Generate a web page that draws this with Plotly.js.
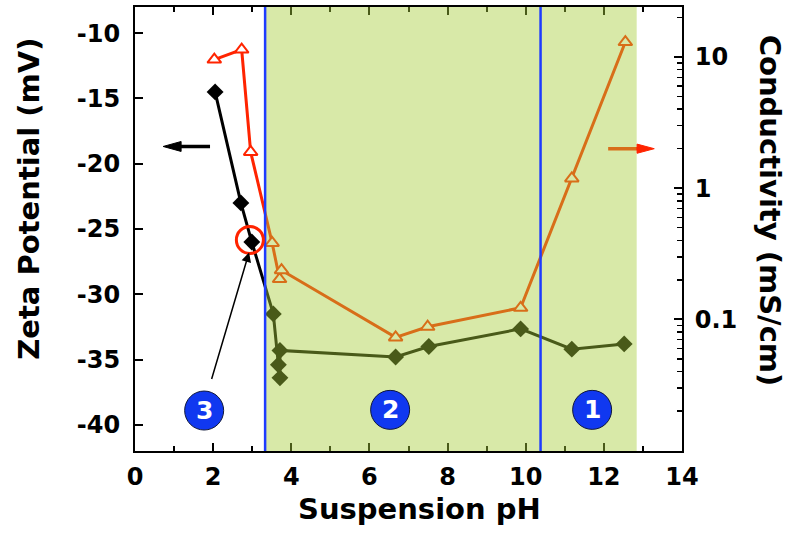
<!DOCTYPE html>
<html>
<head>
<meta charset="utf-8">
<script src="https://cdn.plot.ly/plotly-3.0.1.min.js"></script>
<style>html,body{margin:0;padding:0;background:#fff}#chart{width:789px;height:544px}</style>
</head>
<body>
<div id="chart"></div>
<script>
// ---- data ----
const pH_zeta = [2.05, 2.71, 2.99, 3.54, 3.67, 3.71, 3.71, 6.67, 7.52, 9.87, 11.18, 12.52];
const zeta    = [-14.5, -23.0, -26.0, -31.5, -35.4, -36.4, -34.3, -34.8, -34.0, -32.65, -34.2, -33.8];
const pH_cond = [2.03, 2.73, 2.96, 3.51, 3.70, 3.75, 6.67, 7.49, 9.87, 11.18, 12.55];
const cond    = [9.55, 11.4, 1.89, 0.383, 0.203, 0.237, 0.0729, 0.0879, 0.1226, 1.186, 13.0];

const xTickVals = [0, 2, 4, 6, 8, 10, 12, 14];
const xMinorVals = [1, 3, 5, 7, 9, 11, 13];
const yTickVals = [-40, -35, -30, -25, -20, -15, -10];
const yTickText = ['-40', '-35', '-30', '-25', '-20', '-15', '-10'];
const y2TickVals = [0.1, 1, 10];
const y2TickText = ['0.1', '1', '10'];
const y2MinorVals = [0.02,0.03,0.04,0.05,0.06,0.07,0.08,0.09,
                     0.2,0.3,0.4,0.5,0.6,0.7,0.8,0.9,
                     2,3,4,5,6,7,8,9,20];
const regionLabels = ['3', '2', '1'];

const RED = 'rgb(255,36,0)';
const BLUE = 'rgb(30,60,255)';
const tickFont = {family: 'DejaVu Sans', size: 24, weight: 'bold', color: '#000'};
const titleFont = {family: 'DejaVu Sans', size: 29, weight: 'bold', color: '#000'};

const traces = [
  {x: pH_zeta, y: zeta, yaxis: 'y', mode: 'lines+markers', type: 'scatter',
   line: {color: '#000', width: 3},
   marker: {symbol: 'diamond', size: 13, color: '#000'}, showlegend: false},
  {x: pH_cond, y: cond, yaxis: 'y2', mode: 'lines+markers', type: 'scatter',
   line: {color: RED, width: 3},
   marker: {symbol: 'triangle-up', size: 12, color: '#fff', line: {color: RED, width: 2}}, showlegend: false}
];

function circle(xa, ya, r, fill, lc, lw) {
  return {type: 'circle', layer: 'above', xref: 'x', yref: 'y', xsizemode: 'pixel', ysizemode: 'pixel',
          xanchor: xa, yanchor: ya, x0: -r, x1: r, y0: -r, y1: r,
          fillcolor: fill, line: {color: lc, width: lw}};
}

const shapes = [
  // orange arrow shaft (under the green band)
  {type: 'line', layer: 'above', xref: 'x', yref: 'y', x0: 12.11, x1: 12.93, y0: -18.85, y1: -18.85,
   line: {color: RED, width: 3.5}},
  // green band
  {type: 'rect', layer: 'above', xref: 'x', yref: 'paper', x0: 3.33, x1: 12.84, y0: 0, y1: 1,
   fillcolor: 'rgb(166,206,57)', opacity: 0.44, line: {width: 0}},
  // blue boundaries
  {type: 'line', layer: 'above', xref: 'x', yref: 'paper', x0: 3.33, x1: 3.33, y0: 0, y1: 1,
   line: {color: BLUE, width: 2.5}},
  {type: 'line', layer: 'above', xref: 'x', yref: 'paper', x0: 10.38, x1: 10.38, y0: 0, y1: 1,
   line: {color: BLUE, width: 2.5}},
  // red arrow head
  {type: 'path', layer: 'above', xref: 'x', yref: 'y',
   path: 'M 12.85,-18.50 L 13.29,-18.85 L 12.85,-19.20 Z', fillcolor: RED, line: {color: RED, width: 1}},
  // black arrow
  {type: 'line', layer: 'above', xref: 'x', yref: 'y', x0: 1.92, x1: 1.1, y0: -18.68, y1: -18.68,
   line: {color: '#000', width: 3.5}},
  {type: 'path', layer: 'above', xref: 'x', yref: 'y',
   path: 'M 1.18,-18.30 L 0.72,-18.68 L 1.18,-19.06 Z', fillcolor: '#000', line: {color: '#000', width: 1}},
  // red ring around point
  circle(2.94, -25.84, 13.5, 'rgba(0,0,0,0)', RED, 3),
  // numbered region circles
  circle(1.77, -38.9, 19.5, 'rgb(16,56,240)', '#10183a', 1),
  circle(6.53, -38.85, 19.5, 'rgb(16,56,240)', '#10183a', 1),
  circle(11.70, -38.85, 19.5, 'rgb(16,56,240)', '#10183a', 1)
];

const numFont = {family: 'DejaVu Sans', size: 25, weight: 'bold', color: '#fff'};
const annotations = [
  {xref: 'x', yref: 'y', x: 1.77, y: -38.9, text: regionLabels[0], showarrow: false, font: numFont},
  {xref: 'x', yref: 'y', x: 6.53, y: -38.85, text: regionLabels[1], showarrow: false, font: numFont},
  {xref: 'x', yref: 'y', x: 11.70, y: -38.85, text: regionLabels[2], showarrow: false, font: numFont},
  {xref: 'x', yref: 'y', x: 2.92, y: -26.79, axref: 'x', ayref: 'y', ax: 1.95, ay: -36.6,
   text: '', showarrow: true, arrowhead: 2, arrowsize: 1.3, arrowwidth: 1.5, arrowcolor: '#000', standoff: 0},
  {xref: 'paper', yref: 'paper', x: 0.521, y: -0.131, text: 'Suspension pH', showarrow: false,
   font: titleFont, xanchor: 'center', yanchor: 'middle'},
  {xref: 'paper', yref: 'paper', x: -0.194, y: 0.568, text: 'Zeta Potential (mV)', showarrow: false,
   font: titleFont, textangle: -90, xanchor: 'center', yanchor: 'middle'},
  {xref: 'paper', yref: 'paper', x: 1.161, y: 0.541, text: 'Conductivity (mS/cm)', showarrow: false,
   font: titleFont, textangle: 90, xanchor: 'center', yanchor: 'middle'}
];

const layout = {
  width: 789, height: 544,
  margin: {l: 135, r: 107, t: 7, b: 93},
  paper_bgcolor: '#fff', plot_bgcolor: '#fff',
  showlegend: false,
  xaxis: {range: [0, 14], tickvals: xTickVals, ticks: 'inside', ticklen: 8, tickwidth: 2, tickcolor: '#000',
          showline: true, linewidth: 2, linecolor: '#000', mirror: 'ticks', showgrid: false, zeroline: false,
          tickfont: tickFont, ticklabelstandoff: 3,
          minor: {tickvals: xMinorVals, ticks: 'inside', ticklen: 5, tickwidth: 2, tickcolor: '#000', showgrid: false}},
  yaxis: {range: [-42, -8], tickvals: yTickVals, ticktext: yTickText, ticks: 'inside', ticklen: 8, tickwidth: 2, tickcolor: '#000',
          showline: true, linewidth: 2, linecolor: '#000', showgrid: false, zeroline: false,
          tickfont: tickFont, ticklabelstandoff: 8},
  yaxis2: {overlaying: 'y', side: 'right', type: 'log', range: [-2.003, 1.381],
           tickvals: y2TickVals, ticktext: y2TickText, ticks: 'inside', ticklen: 8, tickwidth: 2, tickcolor: '#000',
           showline: true, linewidth: 2, linecolor: '#000', showgrid: false, zeroline: false,
           tickfont: tickFont, ticklabelstandoff: 6,
           minor: {tickvals: y2MinorVals, ticks: 'inside', ticklen: 5, tickwidth: 1.5, tickcolor: '#000', showgrid: false}},
  shapes: shapes,
  annotations: annotations
};

Plotly.newPlot('chart', traces, layout, {staticPlot: true, displayModeBar: false});
</script>
</body>
</html>
